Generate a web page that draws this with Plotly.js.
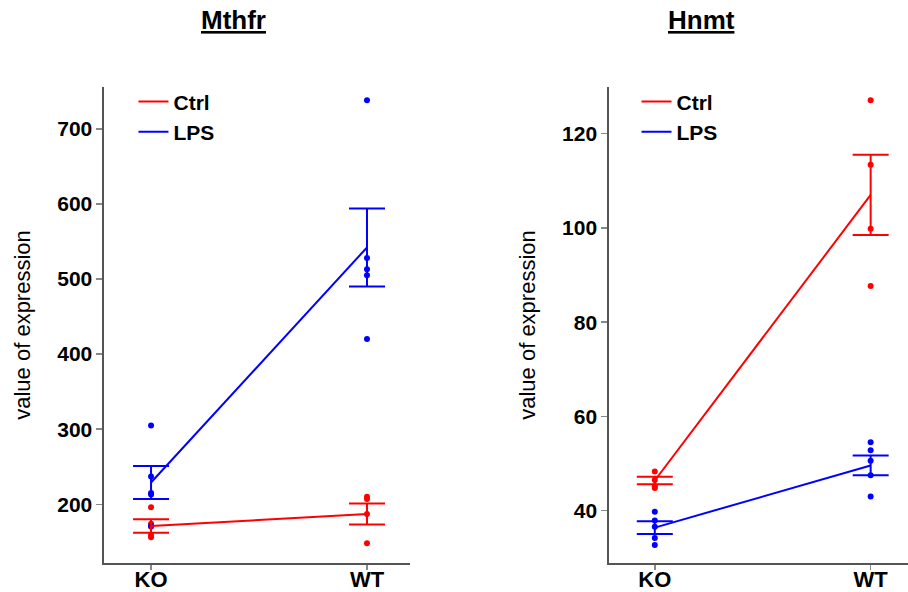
<!DOCTYPE html>
<html>
<head>
<meta charset="utf-8">
<script src="https://cdn.plot.ly/plotly-3.0.1.min.js"></script>
<style>html,body{margin:0;padding:0;background:#fff;}#chart{width:908px;height:592px;}</style>
</head>
<body>
<div id="chart"></div>
<script>
// Categories
const groups = ["KO", "WT"];
const conditions = ["Ctrl", "LPS"];

// Mthfr individual values
const mthfrCtrlKO = [196, 174, 170, 159, 156];
const mthfrCtrlWT = [210, 207, 187, 148];
const mthfrLpsKO = [305, 237, 215, 213, 171];
const mthfrLpsWT = [738, 528, 513, 505, 420];
// Mthfr means and standard errors
const mthfrCtrlMean = [171, 187];
const mthfrCtrlSE = [9, 14];
const mthfrLpsMean = [229, 542];
const mthfrLpsSE = [22, 52];

// Hnmt individual values
const hnmtCtrlKO = [48.3, 46.5, 45.2, 44.8];
const hnmtCtrlWT = [127.1, 113.4, 99.8, 87.7];
const hnmtLpsKO = [39.8, 37.9, 36.6, 34.2, 32.7];
const hnmtLpsWT = [54.5, 52.8, 50.6, 47.5, 43.0];
// Hnmt means and standard errors
const hnmtCtrlMean = [46.4, 107];
const hnmtCtrlSE = [0.8, 8.5];
const hnmtLpsMean = [36.4, 49.6];
const hnmtLpsSE = [1.35, 2.1];

const RED = "#FF0000", BLUE = "#0000FF";
const FONT = "Liberation Sans, Arial, sans-serif";

function pts(ko, wt, color, xa, ya) {
  return {
    type: "scatter", mode: "markers",
    x: ko.map(() => groups[0]).concat(wt.map(() => groups[1])),
    y: ko.concat(wt),
    marker: {color: color, size: 6},
    xaxis: xa, yaxis: ya, showlegend: false, hoverinfo: "y"
  };
}
function meanLine(name, means, se, color, xa, ya, leg) {
  return {
    type: "scatter", mode: "lines", name: name,
    x: groups, y: means,
    line: {color: color, width: 2},
    error_y: {type: "data", array: se, visible: true, color: color, thickness: 2, width: 18},
    xaxis: xa, yaxis: ya, legend: leg
  };
}

const data = [
  pts(mthfrCtrlKO, mthfrCtrlWT, RED, "x", "y"),
  pts(mthfrLpsKO, mthfrLpsWT, BLUE, "x", "y"),
  meanLine(conditions[0], mthfrCtrlMean, mthfrCtrlSE, RED, "x", "y", "legend"),
  meanLine(conditions[1], mthfrLpsMean, mthfrLpsSE, BLUE, "x", "y", "legend"),
  pts(hnmtCtrlKO, hnmtCtrlWT, RED, "x2", "y2"),
  pts(hnmtLpsKO, hnmtLpsWT, BLUE, "x2", "y2"),
  meanLine(conditions[0], hnmtCtrlMean, hnmtCtrlSE, RED, "x2", "y2", "legend2"),
  meanLine(conditions[1], hnmtLpsMean, hnmtLpsSE, BLUE, "x2", "y2", "legend2")
];

const xBase = {
  type: "category", showgrid: false, zeroline: false,
  showline: true, linecolor: "#555", linewidth: 1.5,
  ticks: "outside", ticklen: 5, tickcolor: "#888", tickwidth: 1.5,
  tickfont: {family: FONT, size: 22, color: "#000", weight: "bold"},
  ticklabelstandoff: -9,
  automargin: false, fixedrange: true
};
const yBase = {
  showgrid: false, zeroline: false,
  showline: true, linecolor: "#555", linewidth: 1.5,
  ticks: "outside", ticklen: 6, tickcolor: "#888", tickwidth: 1.5,
  tickfont: {family: FONT, size: 21, color: "#000", weight: "bold"},
  title: {text: "value of expression", font: {family: FONT, size: 22, color: "#000"}, standoff: 20},
  automargin: false, fixedrange: true
};

const layout = {
  width: 908, height: 592,
  paper_bgcolor: "#fff", plot_bgcolor: "#fff",
  margin: {l: 0, r: 0, t: 87, b: 29},
  showlegend: true,
  xaxis: Object.assign({}, xBase, {domain: [0.1145, 0.4515], range: [-0.218, 1.199], anchor: "y"}),
  yaxis: Object.assign({}, yBase, {domain: [0, 1], range: [121.8, 755.7], dtick: 100, anchor: "x"}),
  xaxis2: Object.assign({}, xBase, {domain: [0.6705, 1.0], range: [-0.213, 1.173], anchor: "y2"}),
  yaxis2: Object.assign({}, yBase, {domain: [0, 1], range: [28.9, 129.9], dtick: 20, anchor: "x2"}),
  legend: {x: 0.147, y: 1.012, xanchor: "left", yanchor: "top", bgcolor: "rgba(0,0,0,0)",
           font: {family: FONT, size: 21, color: "#000", weight: "bold"}, itemwidth: 30, tracegroupgap: 0},
  legend2: {x: 0.701, y: 1.012, xanchor: "left", yanchor: "top", bgcolor: "rgba(0,0,0,0)",
           font: {family: FONT, size: 21, color: "#000", weight: "bold"}, itemwidth: 30, tracegroupgap: 0},
  annotations: [
    {text: "<b><u>Mthfr</u></b>", xref: "paper", yref: "paper", x: 0.257, y: 1.0, yshift: 67,
     xanchor: "center", yanchor: "middle", showarrow: false, font: {family: FONT, size: 26, color: "#000"}},
    {text: "<b><u>Hnmt</u></b>", xref: "paper", yref: "paper", x: 0.773, y: 1.0, yshift: 67,
     xanchor: "center", yanchor: "middle", showarrow: false, font: {family: FONT, size: 26, color: "#000"}}
  ]
};

Plotly.newPlot("chart", data, layout, {displayModeBar: false, staticPlot: true});
</script>
</body>
</html>
